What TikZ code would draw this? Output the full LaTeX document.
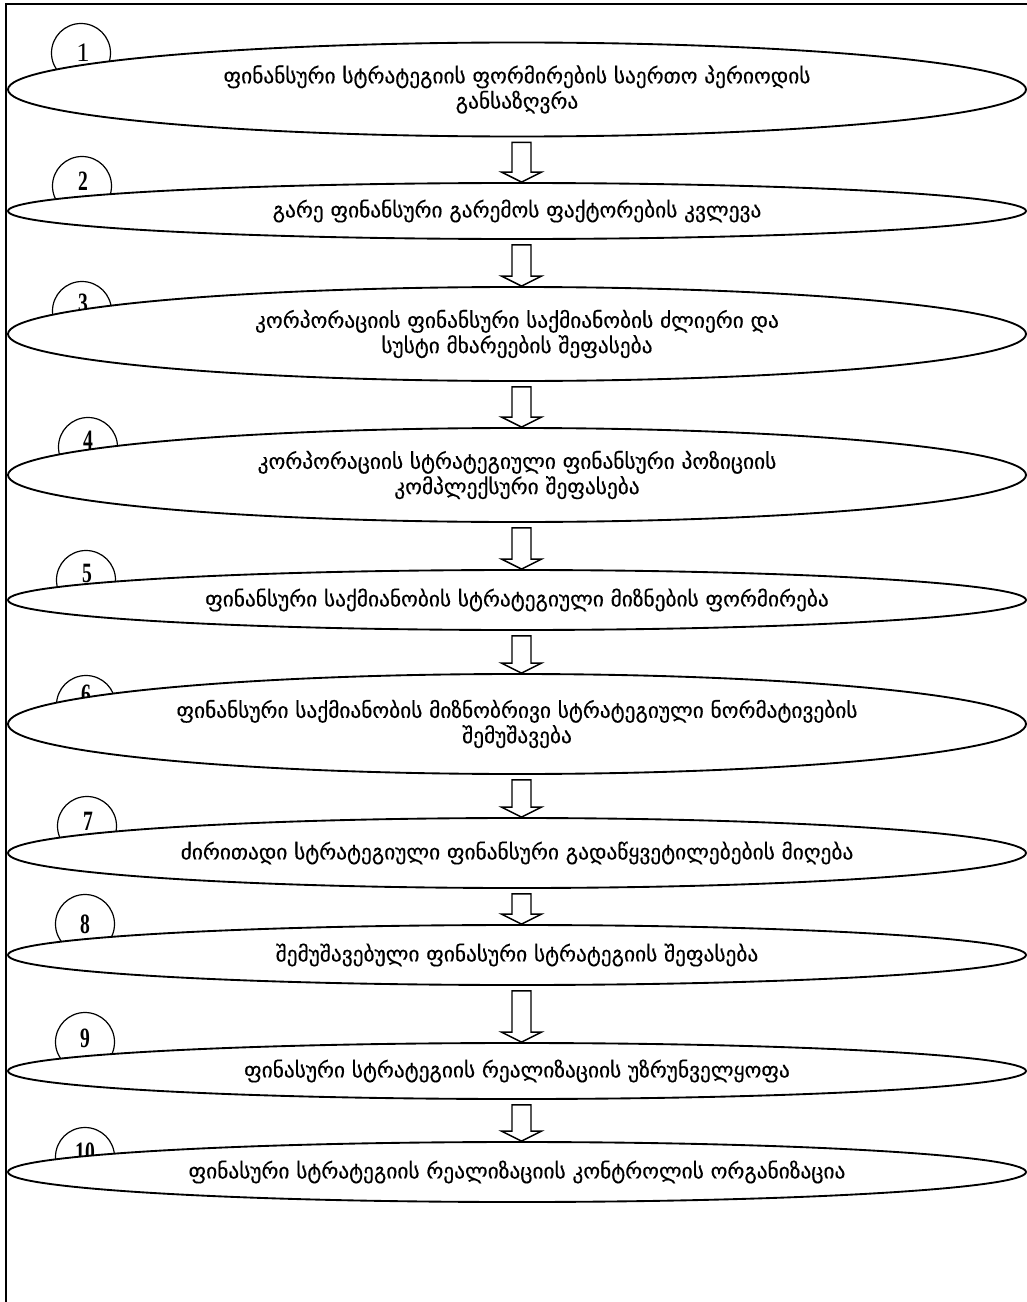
\documentclass[tikz,border=0pt]{standalone}
\usepackage{fontspec}
\setmainfont{Liberation Serif}
\newfontfamily\geo{DejaVu Sans}[FakeBold=0.35]
\usetikzlibrary{shapes.geometric,calc}
\newcommand\flowarrow[2]{%
  \draw[blockarr] ($(#1.south)+(-5,5)$) -- ($(#1.south)+(14,5)$)
    -- ($(#1.south |- #2.north)+(14,-10)$) -- ($(#1.south |- #2.north)+(24.5,-10)$)
    -- ($(#1.south |- #2.north)+(4.5,0)$) -- ($(#1.south |- #2.north)+(-15.5,-10)$)
    -- ($(#1.south |- #2.north)+(-5,-10)$) -- cycle;}
\begin{document}
\begin{tikzpicture}[x=0.75pt,y=-0.75pt,
  stage/.style={ellipse, draw, line width=1.4pt, fill=white, inner sep=0pt,
    minimum width=1018*0.75pt, align=center,
    font=\geo\fontsize{16}{19}\selectfont},
  numcirc/.style={circle, draw, line width=0.9pt, inner sep=0pt, minimum size=59*0.75pt},
  numtxt/.style={inner sep=0pt, font=\fontsize{20}{20}\selectfont},
  numbold/.style={inner sep=0pt, font=\bfseries\fontsize{21}{21}\selectfont},
  blockarr/.style={draw, line width=1.1pt, fill=white, line join=miter},
  frameline/.style={line width=1.5pt}]
\useasboundingbox (0,0) rectangle (1027,1302);
% frame
\coordinate (fbl) at (6,1302);
\coordinate (ftl) at (6,4);
\coordinate (ftr) at (1027,4);
\draw[frameline] (fbl) -- (ftl) -- (ftr);
% number circles
\node[numcirc] (c1) at (81,53) {};
\node[numtxt] (n1) at (83,53) {1};
\node[numcirc] (c2) at (82,186) {};
\node[numbold] (n2) at (83,181) {\scalebox{0.7}[1]{2}};
\node[numcirc] (c3) at (82,311) {};
\node[numbold] (n3) at (83,303) {\scalebox{0.7}[1]{3}};
\node[numcirc] (c4) at (88,447) {};
\node[numbold] (n4) at (88,440) {\scalebox{0.7}[1]{4}};
\node[numcirc] (c5) at (86,580) {};
\node[numbold] (n5) at (87,573) {\scalebox{0.7}[1]{5}};
\node[numcirc] (c6) at (86,705) {};
\node[numbold] (n6) at (86,694) {\scalebox{0.7}[1]{6}};
\node[numcirc] (c7) at (87,826) {};
\node[numbold] (n7) at (88,821) {\scalebox{0.7}[1]{7}};
\node[numcirc] (c8) at (85,924) {};
\node[numbold] (n8) at (85,924) {\scalebox{0.7}[1]{8}};
\node[numcirc] (c9) at (85,1042) {};
\node[numbold] (n9) at (85,1038) {\scalebox{0.7}[1]{9}};
\node[numcirc] (c10) at (85,1157) {};
\node[numbold] (n10) at (85,1152) {\scalebox{0.7}[1]{10}};
% stages
\node[stage, minimum height=94*0.75pt] (e1) at (517,89.5)
  {ფინანსური სტრატეგიის ფორმირების საერთო პერიოდის\\განსაზღვრა};
\node[stage, minimum height=56*0.75pt] (e2) at (517,211)
  {გარე ფინანსური გარემოს ფაქტორების კვლევა};
\node[stage, minimum height=94*0.75pt] (e3) at (517,334)
  {კორპორაციის ფინანსური საქმიანობის ძლიერი და\\სუსტი მხარეების შეფასება};
\node[stage, minimum height=94*0.75pt] (e4) at (517,475)
  {კორპორაციის სტრატეგიული ფინანსური პოზიციის\\კომპლექსური შეფასება};
\node[stage, minimum height=60*0.75pt] (e5) at (517,600)
  {ფინანსური საქმიანობის სტრატეგიული მიზნების ფორმირება};
\node[stage, minimum height=100*0.75pt] (e6) at (517,724)
  {ფინანსური საქმიანობის მიზნობრივი სტრატეგიული ნორმატივების\\შემუშავება};
\node[stage, minimum height=70*0.75pt] (e7) at (517,853)
  {ძირითადი სტრატეგიული ფინანსური გადაწყვეტილებების მიღება};
\node[stage, minimum height=60*0.75pt] (e8) at (517,955)
  {შემუშავებული ფინასური სტრატეგიის შეფასება};
\node[stage, minimum height=56*0.75pt] (e9) at (517,1071)
  {ფინასური სტრატეგიის რეალიზაციის უზრუნველყოფა};
\node[stage, minimum height=60*0.75pt] (e10) at (517,1172)
  {ფინასური სტრატეგიის რეალიზაციის კონტროლის ორგანიზაცია};
% arrows
\flowarrow{e1}{e2}
\flowarrow{e2}{e3}
\flowarrow{e3}{e4}
\flowarrow{e4}{e5}
\flowarrow{e5}{e6}
\flowarrow{e6}{e7}
\flowarrow{e7}{e8}
\flowarrow{e8}{e9}
\flowarrow{e9}{e10}
\end{tikzpicture}
\end{document}
